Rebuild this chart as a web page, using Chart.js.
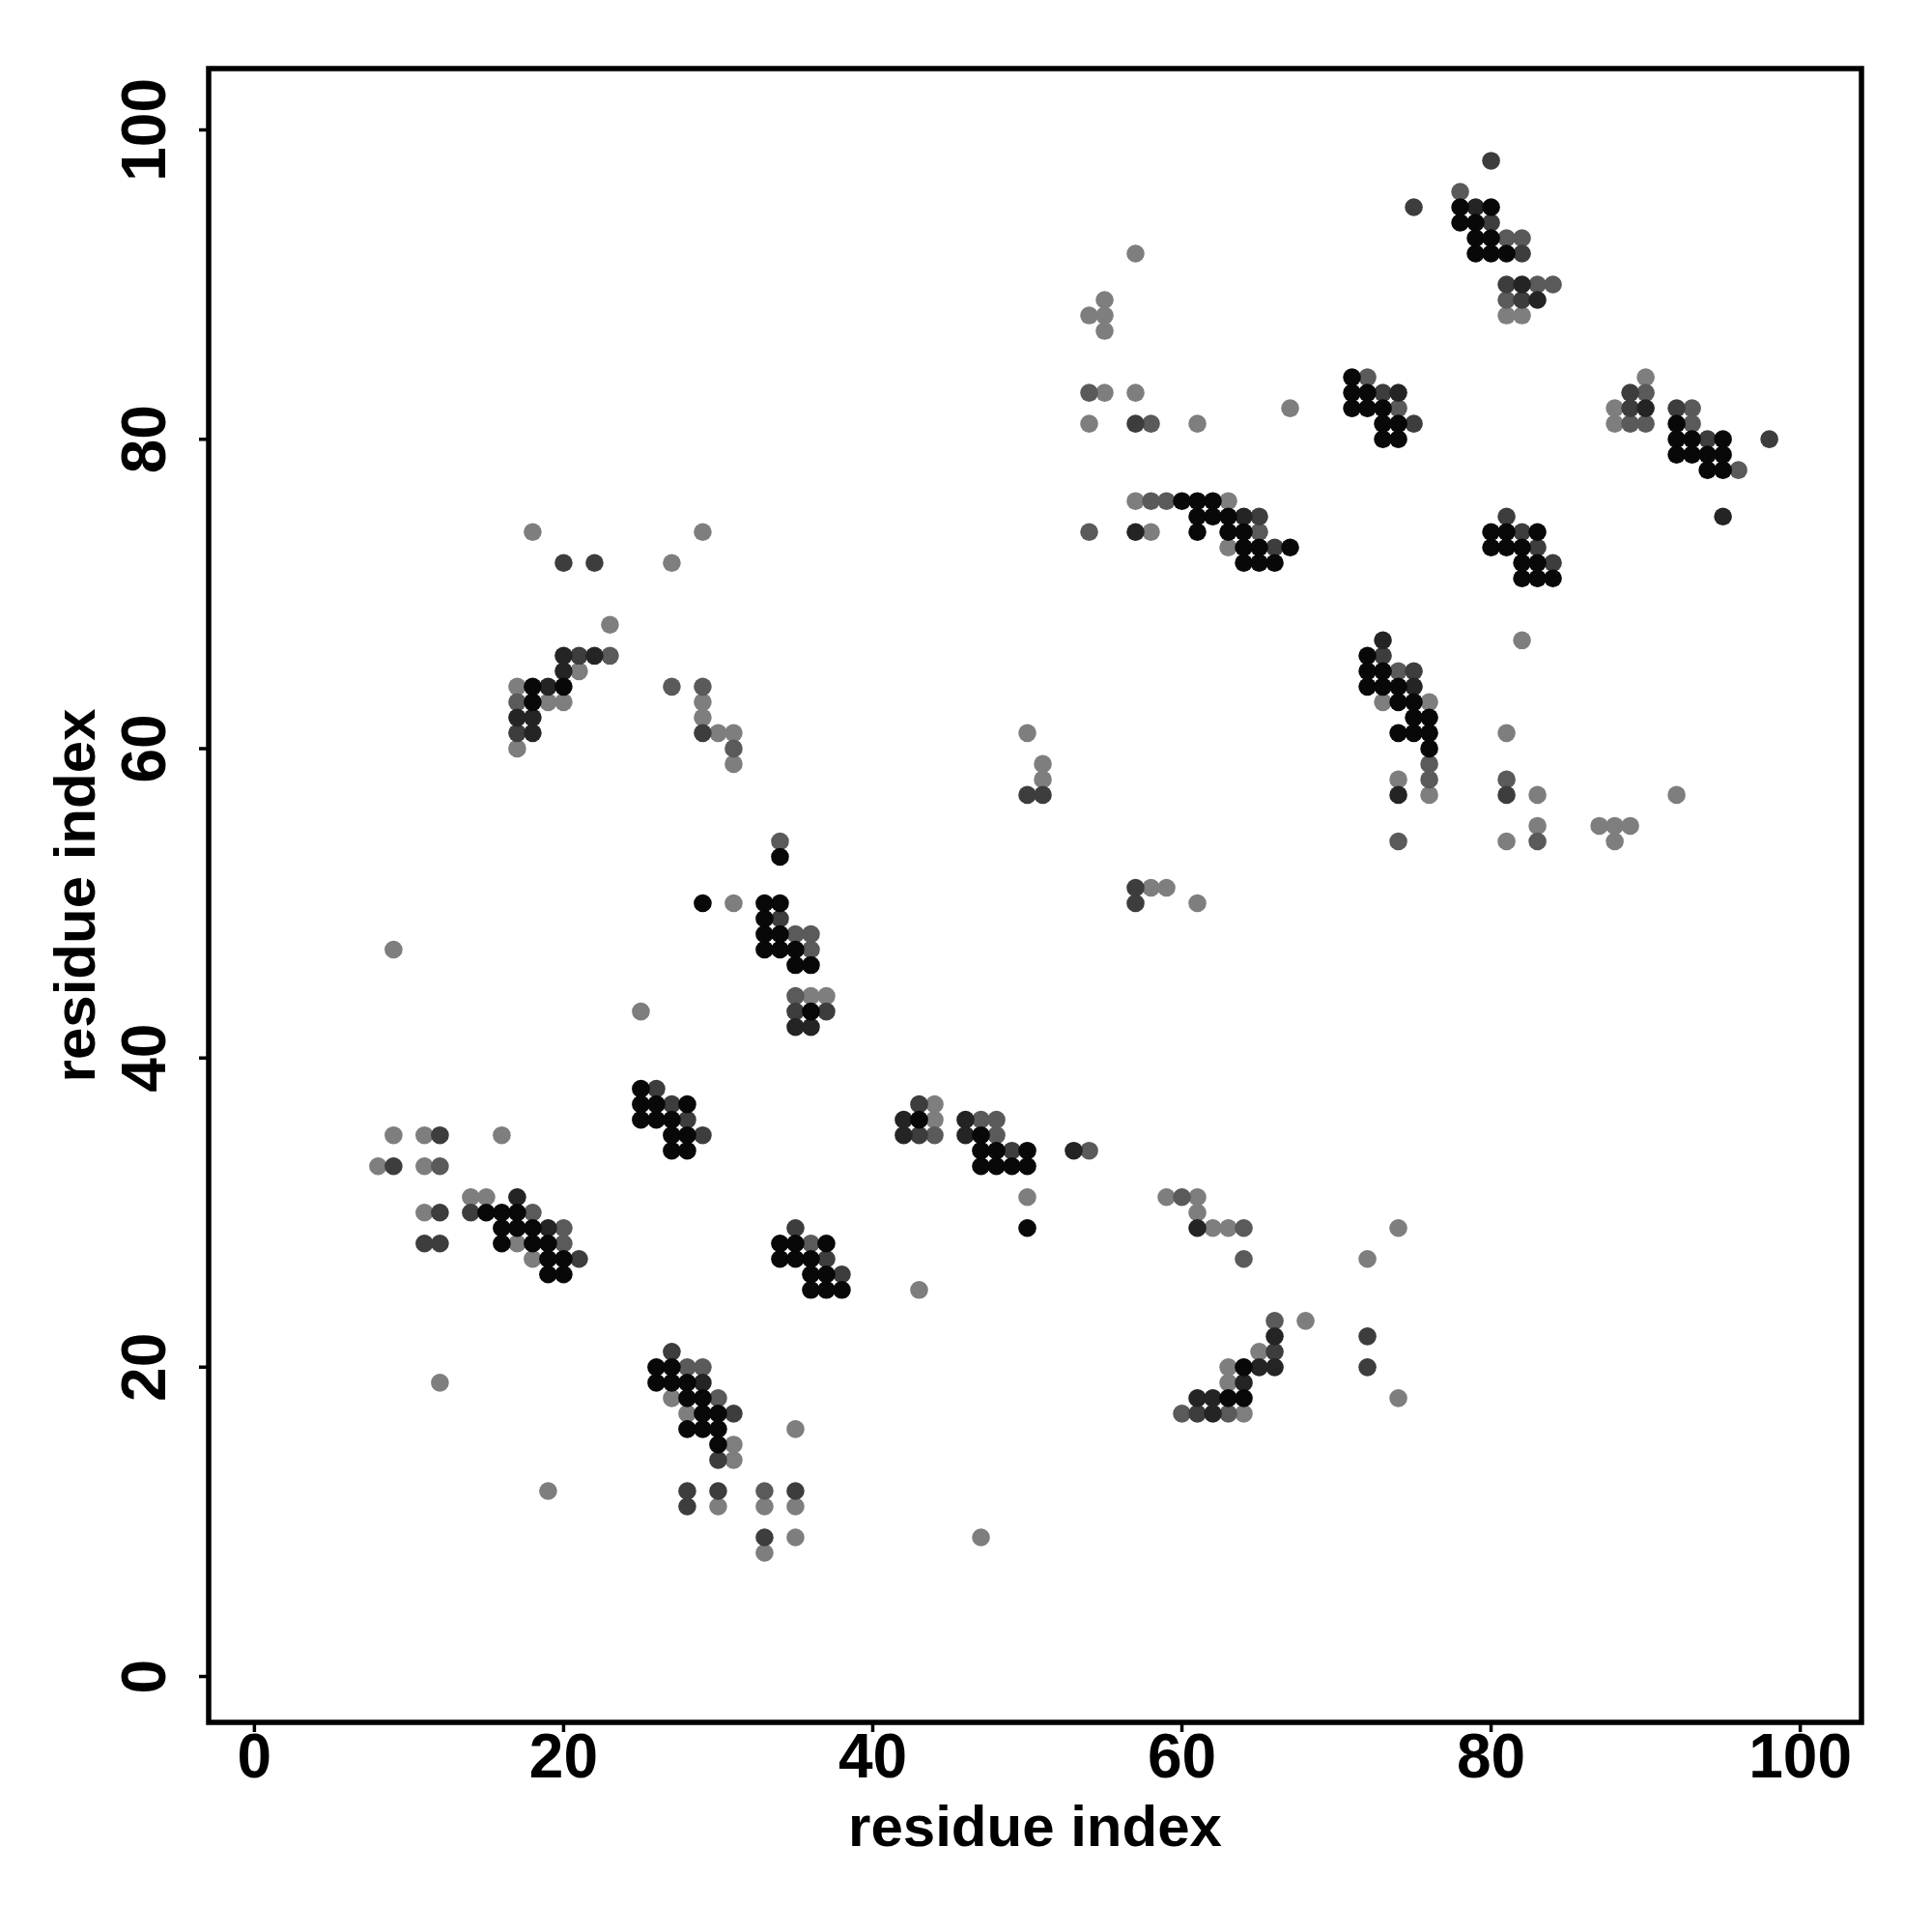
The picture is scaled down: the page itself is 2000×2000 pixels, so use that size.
<!DOCTYPE html>
<html>
<head>
<meta charset="utf-8">
<title>Contact map</title>
<script src="https://cdn.jsdelivr.net/npm/chart.js@4.4.1/dist/chart.umd.min.js"></script>
<style>
	html, body { margin: 0; padding: 0; background: #ffffff; }
	#wrap { width: 2000px; height: 2000px; }
</style>
</head>
<body>
<div id="wrap"><canvas id="contactMap" width="2000" height="2000"></canvas></div>
<script>
// contacts as [residue i, residue j], grouped by shade (0 = darkest)
const shade0Points = [
	[78,95],[80,95],[78,94],[79,94],[79,93],[80,93],[79,92],[80,92],[81,92],
	[71,84],[71,83],[72,83],[71,82],[72,82],[73,82],[73,81],[74,81],[92,81],
	[73,80],[74,80],[92,80],[93,80],[95,80],[92,79],[93,79],[94,79],[95,79],[94,78],[95,78],
	[60,76],[61,76],[62,76],[61,75],[62,75],[63,75],
	[61,74],[63,74],[64,74],[80,74],[81,74],[83,74],
	[64,73],[65,73],[67,73],[80,73],[81,73],[82,73],
	[64,72],[65,72],[66,72],[82,72],[83,72],[82,71],[83,71],[84,71],
	[72,66],[72,65],[73,65],[18,64],[20,64],[72,64],[73,64],[74,64],
	[18,63],[74,63],[75,63],[75,62],[76,62],[74,61],[75,61],[76,61],[76,60],
	[34,53],[29,50],[33,50],[34,50],[33,49],[33,48],[34,48],[33,47],[34,47],[35,47],
	[35,46],[36,46],[36,43],
	[25,38],[25,37],[26,37],[28,37],[25,36],[26,36],[27,36],[43,36],
	[27,35],[28,35],[47,35],[27,34],[28,34],[47,34],[48,34],[50,34],
	[47,33],[48,33],[49,33],[50,33],
	[15,30],[16,30],[17,30],[16,29],[17,29],[18,29],[50,29],
	[16,28],[18,28],[19,28],[34,28],[35,28],[37,28],
	[19,27],[20,27],[34,27],[35,27],[36,27],
	[19,26],[20,26],[36,26],[37,26],[36,25],[37,25],[38,25],
	[26,20],[27,20],[64,20],[26,19],[27,19],[28,19],
	[28,18],[29,18],[63,18],[64,18],[29,17],[30,17],[28,16],[29,16],[30,16],[30,15]
];
const shade1Points = [
	[79,95],[74,83],[90,82],[82,90],[83,89],[64,75],[57,74],[73,67],[75,64],
	[20,66],[22,66],[20,65],[19,64],[17,62],[18,62],[18,61],[35,42],[36,42],[74,57],
	[17,31],[19,29],[29,19],[42,36],[46,36],[42,35],[46,35],[53,34],[61,29],
	[66,22],[65,20],[66,20],[64,19],[61,18],[62,18],[62,17],[95,75]
];
const shade2Points = [
	[80,98],[75,95],[80,94],[82,92],[81,90],[82,89],[73,83],[75,81],[89,83],[89,82],
	[92,82],[94,80],[98,80],[81,75],[82,74],[83,73],[84,72],[65,75],[66,73],[57,81],
	[20,72],[22,72],[73,66],[75,65],[81,57],[21,66],[17,61],[29,61],[34,49],[35,43],
	[37,43],[50,57],[51,57],[57,51],[57,50],[26,38],[27,37],[28,36],[29,35],[12,35],
	[9,33],[12,30],[14,30],[35,29],[11,28],[12,28],[21,27],[37,27],[38,26],[27,21],
	[31,17],[30,14],[28,12],[30,12],[35,12],[28,11],[33,9],[43,37],[43,35],[49,34],
	[66,21],[61,17],[72,22],[72,20]
];
const shade3Points = [
	[78,96],[81,93],[82,93],[83,90],[84,90],[81,89],[72,84],[74,82],[90,83],[93,82],
	[89,81],[90,81],[93,81],[96,78],[54,83],[58,81],[58,76],[59,76],[54,74],[65,74],
	[74,65],[76,59],[76,58],[81,58],[74,54],[83,54],[23,66],[27,64],[29,64],[17,63],
	[31,60],[34,54],[35,48],[36,48],[36,47],[35,44],[12,33],[18,30],[20,29],[20,28],
	[36,28],[28,20],[29,20],[30,18],[33,12],[47,36],[48,36],[44,35],[48,35],[54,34],
	[60,31],[64,29],[64,27],[66,23],[60,17],[63,17]
];
const shade4Points = [
	[18,74],[29,74],[27,72],[23,68],[57,92],[55,89],[54,88],[55,88],[55,87],[55,83],
	[57,83],[67,82],[54,81],[61,81],[57,76],[63,76],[58,74],[63,73],[81,88],[82,88],
	[90,84],[88,82],[88,81],[82,67],[73,63],[76,63],[81,61],[74,58],[76,57],[83,57],
	[92,57],[83,55],[87,55],[88,55],[89,55],[81,54],[88,54],[21,65],[17,64],[19,63],
	[20,63],[29,63],[29,62],[30,61],[31,61],[17,60],[31,59],[31,50],[9,47],[36,44],
	[37,44],[25,43],[50,61],[51,59],[51,58],[58,51],[59,51],[61,50],[9,35],[11,35],
	[16,35],[8,33],[11,33],[14,31],[15,31],[11,30],[17,28],[18,27],[43,25],[12,19],
	[27,18],[28,17],[35,16],[31,15],[31,14],[19,12],[30,11],[33,11],[35,11],[35,9],
	[47,9],[33,8],[44,37],[44,36],[50,31],[59,31],[61,31],[61,30],[62,29],[63,29],
	[68,23],[65,21],[63,20],[63,19],[64,17],[74,29],[72,27],[74,18]
];
const shadeColors = ['#080808', '#242424', '#3d3d3d', '#5a5a5a', '#7e7e7e'];
const tickValues = [0, 20, 40, 60, 80, 100];
const axisTitle = 'residue index';
// R style limits: range 1..100 widened by 4%
const axisMin = -2.96;
const axisMax = 103.96;

const fontFamily = '"Liberation Sans", Arial, Helvetica, sans-serif';
const tickFont = 'bold 64px ' + fontFamily;
const titleFont = 'bold 60px ' + fontFamily;

const frameAndAxes = {
	id: 'frameAndAxes',
	afterDatasetsDraw(chart) {
		const ctx = chart.ctx;
		const area = chart.chartArea;
		const xs = chart.scales.x;
		const ys = chart.scales.y;

		ctx.save();
		ctx.strokeStyle = '#000000';
		ctx.fillStyle = '#000000';

		// box
		ctx.lineWidth = 5.5;
		ctx.strokeRect(area.left, area.top, area.right - area.left, area.bottom - area.top);

		// ticks
		ctx.lineWidth = 3.5;
		ctx.beginPath();
		tickValues.forEach(v => {
			const px = xs.getPixelForValue(v);
			ctx.moveTo(px, area.bottom);
			ctx.lineTo(px, area.bottom + 10);
			const py = ys.getPixelForValue(v);
			ctx.moveTo(area.left, py);
			ctx.lineTo(area.left - 10, py);
		});
		ctx.stroke();

		ctx.textBaseline = 'alphabetic';
		ctx.textAlign = 'center';

		// x tick labels
		ctx.font = tickFont;
		tickValues.forEach(v => {
			ctx.fillText(String(v), xs.getPixelForValue(v), area.bottom + 57);
		});

		// y tick labels, rotated
		tickValues.forEach(v => {
			ctx.save();
			ctx.translate(area.left - 45, ys.getPixelForValue(v));
			ctx.rotate(-Math.PI / 2);
			ctx.fillText(String(v), 0, 0);
			ctx.restore();
		});

		// axis titles
		ctx.font = titleFont;
		ctx.fillText(axisTitle, (area.left + area.right) / 2, area.bottom + 128);

		ctx.save();
		ctx.translate(area.left - 118, (area.top + area.bottom) / 2);
		ctx.rotate(-Math.PI / 2);
		ctx.fillText(axisTitle, 0, 0);
		ctx.restore();

		ctx.restore();
	}
};

const shadeGroups = [shade0Points, shade1Points, shade2Points, shade3Points, shade4Points];

new Chart(document.getElementById('contactMap'), {
	type: 'scatter',
	data: {
		// first dataset is drawn on top, so the darkest shade comes first
		datasets: shadeGroups.map((pts, i) => ({
			label: 'shade ' + i,
			data: pts.map(p => ({ x: p[0], y: p[1] })),
			backgroundColor: shadeColors[i],
			borderWidth: 0,
			pointRadius: 9.3,
			pointHoverRadius: 9.3
		}))
	},
	options: {
		responsive: false,
		devicePixelRatio: 1,
		animation: false,
		layout: {
			padding: { left: 216, top: 71, right: 73, bottom: 217 }
		},
		scales: {
			x: { type: 'linear', min: axisMin, max: axisMax, display: false },
			y: { type: 'linear', min: axisMin, max: axisMax, display: false }
		},
		plugins: {
			legend: { display: false },
			tooltip: { enabled: false }
		}
	},
	plugins: [frameAndAxes]
});
</script>
</body>
</html>
